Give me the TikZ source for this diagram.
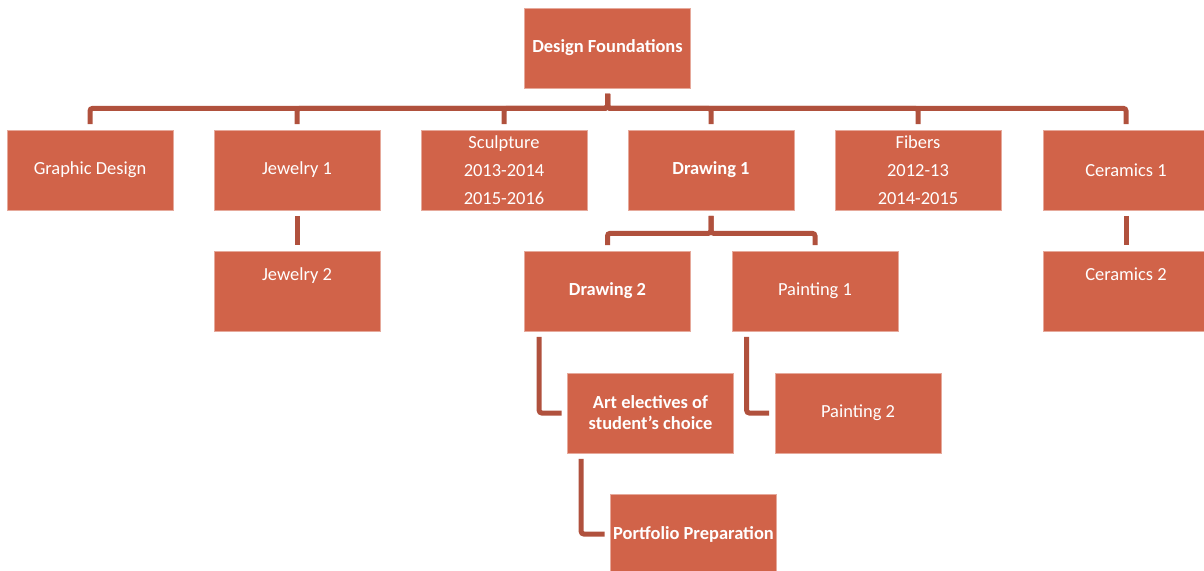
\documentclass[tikz,border=0pt]{standalone}
\usepackage{fontspec}
\setmainfont{Carlito}
\usepackage{tikz}
\usetikzlibrary{positioning,calc}
\definecolor{boxred}{HTML}{D16349}
\definecolor{linkred}{HTML}{B0513D}

\begin{document}
\begin{tikzpicture}[x=0.02cm,y=-0.02cm,
  unit/.style={fill=boxred,draw=boxred!55!white,line width=0.4pt,text=white,
    minimum width=3.32cm,minimum height=1.6cm,align=center,inner sep=0pt,
    font=\fontsize{10.5}{12}\selectfont},
  lead/.style={unit,font=\fontsize{10.5}{12}\selectfont\bfseries},
  link/.style={draw=linkred,line width=0.1cm,rounded corners=1.5pt,
    shorten <=0.11cm,shorten >=0.11cm}]

\useasboundingbox (0,0) rectangle (1204,571);

\node[lead] (df) at (607.5,48) {Design Foundations};

\node[unit] (gd) at (90,170) {Graphic Design};
\node[unit] (jw1) at (297,170) {Jewelry 1};
\node[unit] (sc) at (504,170) {Sculpture\\[4pt]2013-2014\\[4pt]2015-2016};
\node[lead] (dr1) at (711,170) {Drawing 1};
\node[unit] (fb) at (918,170) {Fibers\\[4pt]2012-13\\[4pt]2014-2015};
\node[unit] (ce1) at (1126,170) {Ceramics 1};

\node[unit] (jw2) at (297,291) {Jewelry 2\\[4pt]\strut};
\node[lead] (dr2) at (607.5,291) {Drawing 2};
\node[unit] (pt1) at (815,291) {Painting 1};
\node[unit] (ce2) at (1126,291) {Ceramics 2\\[4pt]\strut};

\node[lead] (art) at (650.5,413) {Art electives of\\student's choice};
\node[unit] (pt2) at (858,413) {Painting 2};
\node[lead] (pf) at (693.5,534) {Portfolio Preparation};

% top level
\draw[link] (df.south) -- ++(0,20) -| (gd.north);
\draw[link] (df.south) -- ++(0,20) -| (jw1.north);
\draw[link] (df.south) -- ++(0,20) -| (sc.north);
\draw[link] (df.south) -- ++(0,20) -| (dr1.north);
\draw[link] (df.south) -- ++(0,20) -| (fb.north);
\draw[link] (df.south) -- ++(0,20) -| (ce1.north);

\draw[link] (jw1) -- (jw2);
\draw[link] (ce1) -- (ce2);

\draw[link] (dr1.south) -- ++(0,23) -| (dr2.north);
\draw[link] (dr1.south) -- ++(0,23) -| (pt1.north);

% side branches
\draw[link] ([xshift=0.3cm]dr2.south west) |- (art.west);
\draw[link] ([xshift=0.3cm]pt1.south west) |- (pt2.west);
\draw[link] ([xshift=0.28cm]art.south west) |- (pf.west);
\end{tikzpicture}
\end{document}
